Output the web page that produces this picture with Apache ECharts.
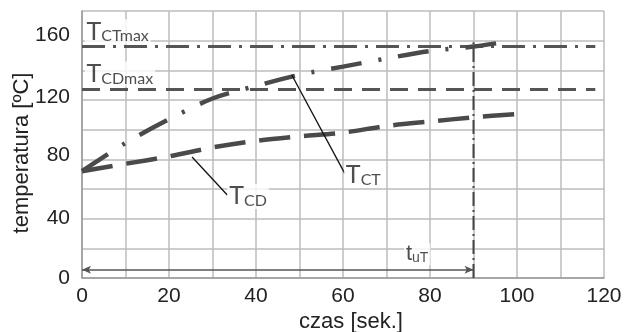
<!DOCTYPE html>
<html>
<head>
<meta charset="utf-8">
<script src="https://cdn.jsdelivr.net/npm/echarts@6/dist/echarts.min.js"></script>
<style>
  html, body { margin: 0; padding: 0; background: #fff; }
  #chart { width: 627px; height: 332px; }
</style>
</head>
<body>
<div id="chart"></div>
<script>
// curve T_CT (dash-dot-dot)
const tctTime = [0, 10, 20, 30, 40, 50, 60, 70, 80, 90, 97];
const tctTemp = [72, 91, 107, 121, 129.5, 137, 142.5, 148, 153, 156, 159];
// curve T_CD (long dash)
const tcdTime = [0, 10, 20, 30, 40, 50, 60, 70, 80, 90, 100];
const tcdTemp = [72, 77, 82, 88, 92.5, 95.5, 98, 102.5, 105.5, 108.3, 110.6];
// limits
const tctMax = 156;
const tcdMax = 127;
const limitSpan = [0, 118];
// time t_uT
const tuT = 90;
const tuTTop = 159;
const arrowLevel = 5.5;
// leader lines (time, temp)
const leaderCT = [[48.2, 137], [60.4, 70.5]];
const leaderCD = [[25.3, 81.6], [33.4, 56]];
// annotation texts and anchors
const noteTexts = ['{t|T}{s|CTmax}', '{t|T}{s|CDmax}', '{t|T}{s|CT}', '{t|T}{s|CD}', '{u|t}{v|uT}'];
const noteAnchors = [[0.6, 166], [0.6, 137.5], [60.2, 69.5], [33.4, 55], [74, 16]];
// y tick labels in the scan sit a little above their grid lines
const yLabelLift = { 160: 10, 120: 6, 80: 8, 40: 0, 0: 0 };

const chart = echarts.init(document.getElementById('chart'));

const pairs = (xs, ys) => xs.map((x, i) => [x, ys[i]]);
const dark = '#4a4a4a';

const yRich = {};
Object.keys(yLabelLift).forEach(k => {
  yRich['y' + k] = { fontFamily: 'Liberation Sans', fontSize: 21, color: '#222', padding: [0, 0, yLabelLift[k], 0] };
});

chart.setOption({
  animation: false,
  backgroundColor: '#fff',
  grid: { left: 82, right: 23, top: 11, bottom: 54, outerBoundsMode: 'none' },
  xAxis: {
    type: 'value', min: 0, max: 120, interval: 10,
    name: 'czas [sek.]', nameLocation: 'middle', nameGap: 33, nameMoveOverlap: false,
    nameTextStyle: { fontFamily: 'Liberation Sans', fontSize: 22, color: '#222', padding: [0, 0, 0, 16] },
    axisLine: { lineStyle: { color: '#999', width: 1.5 } },
    axisTick: { show: false },
    axisLabel: {
      fontFamily: 'Liberation Sans', fontSize: 21, color: '#222', margin: 8,
      formatter: v => (v % 20 === 0 ? String(v) : '')
    },
    splitLine: { show: true, lineStyle: { color: '#bdbdbd', width: 1.5 } }
  },
  yAxis: {
    type: 'value', min: 0, max: 180, interval: 20,
    name: 'temperatura [ºC]', nameLocation: 'middle', nameGap: 49, nameMoveOverlap: false,
    nameTextStyle: { fontFamily: 'Liberation Sans', fontSize: 22, color: '#222', padding: [0, 17, 0, 0] },
    axisLine: { show: true, lineStyle: { color: '#999', width: 1.5 } },
    axisTick: { show: false },
    axisLabel: {
      margin: 12,
      formatter: v => (v % 40 === 0 ? '{y' + v + '|' + v + '}' : ''),
      rich: yRich
    },
    splitLine: { show: true, lineStyle: { color: '#bdbdbd', width: 1.5 } }
  },
  series: [
    {
      name: 'TCTmax', type: 'line', symbol: 'none', silent: true,
      data: [[limitSpan[0], tctMax], [limitSpan[1], tctMax]],
      lineStyle: { color: '#555', width: 3, type: [23, 8, 3, 8] }
    },
    {
      name: 'TCDmax', type: 'line', symbol: 'none', silent: true,
      data: [[limitSpan[0], tcdMax], [limitSpan[1], tcdMax]],
      lineStyle: { color: '#555', width: 3, type: [18, 10] }
    },
    {
      name: 'tuT', type: 'line', symbol: 'none', silent: true,
      data: [[tuT, 0], [tuT, tuTTop]],
      lineStyle: { color: '#444', width: 2, type: [14, 4, 2, 4] },
      markLine: {
        silent: true, symbol: ['arrow', 'arrow'], symbolSize: [6, 9],
        label: { show: false },
        lineStyle: { color: '#555', width: 1.5, type: 'solid' },
        data: [[{ coord: [0, arrowLevel] }, { coord: [tuT, arrowLevel] }]]
      }
    },
    {
      name: 'TCD', type: 'line', symbol: 'none', smooth: 0.3, silent: true,
      data: pairs(tcdTime, tcdTemp),
      lineStyle: { color: dark, width: 4.5, type: [31, 14] }
    },
    {
      name: 'TCT', type: 'line', symbol: 'none', smooth: 0.3, silent: true,
      data: pairs(tctTime, tctTemp),
      lineStyle: { color: dark, width: 4.5, type: [31, 17, 3, 17] }
    },
    {
      name: 'leaderCT', type: 'line', symbol: 'none', silent: true,
      data: leaderCT, lineStyle: { color: '#111', width: 1.3 }
    },
    {
      name: 'leaderCD', type: 'line', symbol: 'none', silent: true,
      data: leaderCD, lineStyle: { color: '#111', width: 1.3 }
    },
    {
      name: 'notes', type: 'scatter', symbolSize: 0, silent: true, z: 10, clip: false,
      data: noteAnchors.map((p, i) => ({ value: p, label: { formatter: noteTexts[i] } })),
      label: {
        show: true, position: 'right', distance: 0,
        backgroundColor: '#fff', padding: [0, 2],
        rich: {
          t: { fontFamily: 'Lato', fontSize: 25, lineHeight: 25, color: '#222' },
          s: { fontFamily: 'Lato', fontSize: 16, lineHeight: 16, color: '#222', verticalAlign: 'bottom' },
          u: { fontFamily: 'Liberation Sans', fontSize: 22, lineHeight: 22, color: '#222' },
          v: { fontFamily: 'Liberation Sans', fontSize: 14, lineHeight: 14, color: '#222', verticalAlign: 'bottom' }
        }
      }
    }
  ]
});
</script>
</body>
</html>
